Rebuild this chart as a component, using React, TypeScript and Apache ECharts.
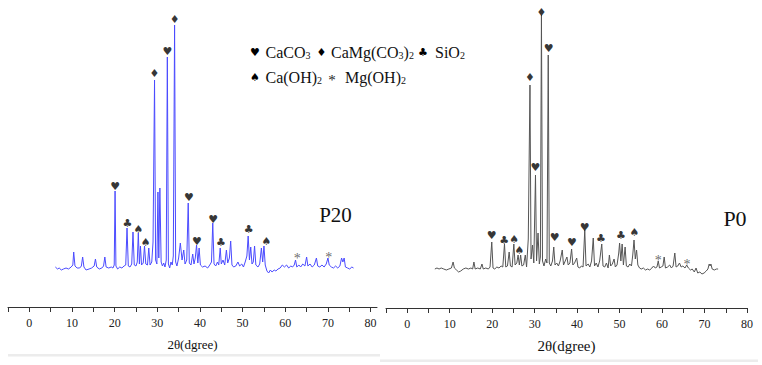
import React, { useEffect, useRef } from 'react';
import * as echarts from 'echarts';

// P20 diffraction pattern: [2θ, intensity above baseline]
const p20Pattern: number[][] = [
  [6.1, 1], [6.6, -1], [7.0, 0], [7.5, -2], [8.0, -1], [8.6, 0], [9.2, -1], [9.8, 1], [10.2, 3], [10.4, 16], [10.7, 2],
  [11.2, 0], [11.8, 0], [12.2, 2], [12.5, 11], [12.8, 1], [13.3, -2], [14.0, -1], [14.6, 0], [15.2, 2], [15.5, 9], [15.8, 1],
  [16.4, -1], [17.0, 0], [17.4, 2], [17.7, 11], [18.0, 1], [18.6, 0], [19.2, 1], [19.6, 0], [19.9, 3], [20.1, 77], [20.3, 2],
  [20.7, -1], [21.2, 1], [21.7, 0], [22.2, 2], [22.6, 3], [22.9, 40], [23.2, 2], [23.6, 1], [24.0, 4], [24.3, 36], [24.6, 3],
  [25.0, 2], [25.3, 6], [25.55, 35], [25.8, 4], [26.05, 22], [26.3, 3], [26.7, 5], [27.0, 22], [27.3, 4], [27.7, 3], [28.0, 20],
  [28.3, 3], [28.7, 6], [29.0, 26], [29.35, 188], [29.6, 8], [29.9, 4], [30.15, 76], [30.35, 10], [30.6, 80], [30.9, 6],
  [31.2, 2], [31.5, 5], [31.8, 1], [32.1, 8], [32.35, 211], [32.6, 4], [32.9, 0], [33.2, 6], [33.5, 3], [33.75, 12],
  [34.05, 243], [34.3, 6], [34.6, 2], [35.0, 10], [35.4, 25], [35.8, 8], [36.2, 18], [36.5, 4], [36.9, 8], [37.25, 65],
  [37.5, 5], [37.9, 3], [38.3, 14], [38.6, 4], [38.9, 10], [39.2, 23], [39.5, 5], [39.8, 20], [40.1, 3], [40.6, 1], [41.2, 2],
  [41.8, 0], [42.3, 3], [42.7, 6], [43.0, 45], [43.3, 4], [43.7, 2], [44.1, 6], [44.4, 3], [44.75, 20], [45.0, 4], [45.4, 8],
  [45.8, 3], [46.2, 18], [46.5, 5], [46.9, 10], [47.2, 27], [47.5, 3], [47.9, 1], [48.4, 2], [48.9, 6], [49.3, 2], [49.8, 4],
  [50.2, 1], [50.6, 6], [51.0, 12], [51.3, 32], [51.6, 8], [51.9, 21], [52.2, 4], [52.5, 6], [52.8, 22], [53.1, 3], [53.6, 1],
  [54.0, 4], [54.4, 20], [54.7, 6], [55.0, 22], [55.3, 3], [55.7, -3], [56.1, -5], [56.5, -2], [56.9, -4], [57.4, -2],
  [57.8, -3], [58.3, -1], [58.8, 0], [59.3, 3], [59.8, 1], [60.3, 3], [60.8, 0], [61.3, 2], [61.7, 1], [62.1, 3], [62.4, 8],
  [62.7, 1], [63.2, 3], [63.6, 1], [64.1, 4], [64.6, 2], [65.0, 11], [65.3, 2], [65.8, 4], [66.3, 1], [66.8, 3], [67.3, 10],
  [67.6, 2], [68.1, 1], [68.6, 3], [69.1, 1], [69.6, 4], [70.0, 10], [70.3, 3], [70.8, 1], [71.3, 0], [71.8, 2], [72.3, 0],
  [72.8, 2], [73.2, 10], [73.5, 6], [73.8, 10], [74.1, 1], [74.6, 0], [75.1, -1], [75.6, 1], [76.0, 0],
];

// P0 diffraction pattern
const p0Pattern: number[][] = [
  [6.5, 0], [7.0, 1], [7.5, 0], [8.0, 1], [8.6, 0], [9.2, -1], [9.8, 0], [10.4, 1], [10.8, 7], [11.1, 1], [11.6, -1],
  [12.1, -3], [12.6, -2], [13.2, 0], [13.8, 1], [14.4, 0], [15.0, 1], [15.4, 0], [15.7, 7], [16.0, 0], [16.6, 1], [17.2, 0],
  [17.6, 5], [17.9, 0], [18.5, 1], [19.1, 0], [19.5, 2], [19.9, 27], [20.2, 1], [20.6, 0], [21.1, 2], [21.6, 1], [22.1, 3],
  [22.5, 2], [22.9, 25], [23.2, 2], [23.6, 3], [24.0, 17], [24.3, 3], [24.7, 2], [25.1, 25], [25.4, 4], [25.8, 6], [26.1, 14],
  [26.4, 4], [26.7, 14], [27.0, 3], [27.4, 4], [27.8, 14], [28.1, 2], [28.5, 30], [28.9, 184], [29.15, 10], [29.5, 24],
  [29.8, 6], [30.2, 94], [30.45, 8], [30.8, 36], [31.1, 5], [31.35, 12], [31.6, 254], [31.85, 8], [32.2, 3], [32.6, 10],
  [32.9, 6], [33.2, 214], [33.45, 6], [33.8, 3], [34.2, 8], [34.5, 22], [34.8, 4], [35.2, 6], [35.6, 3], [36.0, 8], [36.5, 19],
  [36.8, 4], [37.2, 8], [37.6, 12], [37.9, 4], [38.3, 6], [38.7, 20], [39.0, 4], [39.4, 6], [39.9, 11], [40.2, 2], [40.6, 1],
  [41.0, 3], [41.4, 2], [41.8, 39], [42.1, 3], [42.6, 5], [43.0, 2], [43.4, 8], [43.8, 31], [44.1, 3], [44.5, 6], [44.9, 2],
  [45.3, 8], [45.8, 25], [46.1, 3], [46.5, 2], [46.9, 6], [47.3, 1], [47.6, 14], [47.9, 3], [48.3, 5], [48.7, 10], [49.0, 2],
  [49.4, 4], [49.8, 16], [50.0, 26], [50.3, 8], [50.6, 25], [50.9, 4], [51.3, 22], [51.6, 3], [52.0, 2], [52.4, 5], [52.8, 3],
  [53.1, 14], [53.4, 29], [53.7, 10], [54.0, 19], [54.3, 4], [54.7, 1], [55.1, 0], [55.6, 1], [56.1, -1], [56.6, 0],
  [57.1, -1], [57.6, 1], [58.0, 3], [58.4, 1], [58.8, 2], [59.1, 8], [59.4, 1], [59.8, 2], [60.2, 3], [60.5, 12], [60.8, 1],
  [61.3, 2], [61.8, 4], [62.2, 1], [62.6, 3], [63.0, 16], [63.3, 2], [63.7, 3], [64.1, 6], [64.5, 2], [64.9, 3], [65.4, 1],
  [65.8, 4], [66.2, 1], [66.7, -1], [67.1, 0], [67.6, -3], [68.0, 1], [68.4, -4], [68.9, -3], [69.4, -5], [69.9, -4],
  [70.4, -2], [70.8, 0], [71.1, 5], [71.3, 3], [71.5, 5], [71.8, 0], [72.3, -1], [72.8, 0], [73.2, 0],
];

// Phase markers: [2θ, marker height, symbol]
const p20Marks: [number, number, string][] = [
  [20.1, 82, '♥'], [23.0, 45, '♣'], [25.6, 39, '♠'], [27.3, 26, '♠'], [29.35, 195, '♦'], [32.35, 217, '♥'],
  [34.05, 249, '♦'], [37.4, 71, '♥'], [39.3, 27, '♥'], [43.1, 49, '♥'], [44.9, 26, '♣'], [51.4, 39, '♣'],
  [55.6, 27, '♠'], [62.8, 13, '*'], [70.2, 14, '*'],
];
const p0Marks: [number, number, string][] = [
  [19.9, 34, '♥'], [22.8, 29, '♣'], [25.2, 30, '♠'], [26.4, 19, '♠'], [28.9, 192, '♦'], [30.2, 102, '♥'],
  [31.6, 257, '♦'], [33.3, 221, '♥'], [34.7, 32, '♥'], [38.8, 27, '♥'], [41.8, 42, '♥'], [45.6, 31, '♣'],
  [50.3, 34, '♣'], [53.5, 37, '♠'], [59.1, 12, '*'], [65.9, 8, '*'],
];

const xTickValues = [-5, 0, 5, 10, 15, 20, 25, 30, 35, 40, 45, 50, 55, 60, 65, 70, 75, 80];
const xLabelValues = [0, 10, 20, 30, 40, 50, 60, 70, 80];

const serif = '"Liberation Serif", "Times New Roman", serif';
const symFont = '"DejaVu Sans", sans-serif';

function markData(marks: [number, number, string][]) {
  return marks.map(([x, y, s]) => ({
    name: s,
    value: [x, y],
    label:
      s === '*'
        ? { color: '#444', fontFamily: serif, fontSize: 14, offset: [0, 3], textBorderWidth: 0, textBorderColor: 'transparent' }
        : { color: '#000', fontFamily: symFont, fontSize: 11, textBorderWidth: 0, textBorderColor: 'transparent' },
  }));
}

function xAxisOf(gridIndex: number, max: number, nameSize: number, nameGap: number) {
  return {
    type: 'value',
    gridIndex,
    min: -5,
    max,
    name: '2θ(dgree)',
    nameLocation: 'middle',
    nameGap,
    nameTextStyle: { fontFamily: serif, fontSize: nameSize, color: '#111' },
    axisLine: { show: true, onZero: false, lineStyle: { color: '#333', width: 1 } },
    axisTick: { show: true, inside: false, length: 5, customValues: xTickValues, lineStyle: { color: '#333' } },
    axisLabel: { show: true, customValues: xLabelValues, margin: 10, fontFamily: serif, fontSize: 12, color: '#222' },
    splitLine: { show: false },
  };
}

function yAxisOf(gridIndex: number, max: number) {
  return { type: 'value', gridIndex, min: -39, max, show: false, splitLine: { show: false } };
}

export default function App() {
  const ref = useRef<HTMLDivElement>(null);
  useEffect(() => {
    const chart = echarts.init(ref.current!, null, { renderer: 'svg' });
    const subRich = { b: { fontSize: 10, fontFamily: serif, verticalAlign: 'bottom', lineHeight: 10, fill: '#111' } };
    const lblStyle = (text: string) => ({
      text,
      fontFamily: serif,
      fontSize: 16,
      fill: '#111',
      textAlign: 'left',
      textVerticalAlign: 'middle',
      rich: subRich,
    });
    const symStyle = (text: string, isStar = false) => ({
      text,
      fontFamily: isStar ? serif : symFont,
      fontSize: isStar ? 15 : 11,
      fill: isStar ? '#222' : '#000',
      textAlign: 'center',
      textVerticalAlign: 'middle',
    });
    chart.setOption({
      animation: false,
      backgroundColor: '#fff',
      textStyle: { fontFamily: serif },
      grid: [
        { left: 8, top: 10, width: 369, height: 297 },
        { left: 386, top: 10, width: 361, height: 298 },
      ],
      xAxis: [xAxisOf(0, 81.5, 13, 31), xAxisOf(1, 80, 15, 30)],
      yAxis: [yAxisOf(0, 258), yAxisOf(1, 259)],
      series: [
        {
          type: 'line',
          xAxisIndex: 0,
          yAxisIndex: 0,
          data: p20Pattern,
          showSymbol: false,
          symbol: 'none',
          lineStyle: { color: '#4b4bff', width: 1 },
        },
        {
          type: 'line',
          xAxisIndex: 1,
          yAxisIndex: 1,
          data: p0Pattern,
          showSymbol: false,
          symbol: 'none',
          lineStyle: { color: '#555', width: 1 },
        },
        {
          type: 'scatter',
          xAxisIndex: 0,
          yAxisIndex: 0,
          symbolSize: 1,
          itemStyle: { color: 'rgba(0,0,0,0)' },
          label: { show: true, position: 'inside', formatter: '{b}', textBorderWidth: 0 },
          data: markData(p20Marks),
          z: 5,
        },
        {
          type: 'scatter',
          xAxisIndex: 1,
          yAxisIndex: 1,
          symbolSize: 1,
          itemStyle: { color: 'rgba(0,0,0,0)' },
          label: { show: true, position: 'inside', formatter: '{b}', textBorderWidth: 0 },
          data: markData(p0Marks),
          z: 5,
        },
      ],
      graphic: [
        { type: 'text', x: 255, y: 52, style: symStyle('♥') },
        { type: 'text', x: 265.5, y: 52, style: lblStyle('CaCO{b|3}') },
        { type: 'text', x: 321.5, y: 52, style: symStyle('♦') },
        { type: 'text', x: 331, y: 52, style: lblStyle('CaMg(CO{b|3}){b|2}') },
        { type: 'text', x: 423, y: 52, style: symStyle('♣') },
        { type: 'text', x: 435, y: 52, style: lblStyle('SiO{b|2}') },
        { type: 'text', x: 255, y: 77, style: symStyle('♠') },
        { type: 'text', x: 265.5, y: 77, style: lblStyle('Ca(OH){b|2}') },
        { type: 'text', x: 332, y: 80, style: symStyle('*', true) },
        { type: 'text', x: 345, y: 77, style: lblStyle('Mg(OH){b|2}') },
        {
          type: 'text',
          x: 335.5,
          y: 215,
          style: { text: 'P20', fontFamily: serif, fontSize: 21, fill: '#111', textAlign: 'center', textVerticalAlign: 'middle' },
        },
        {
          type: 'text',
          x: 735,
          y: 218,
          style: { text: 'P0', fontFamily: serif, fontSize: 22, fill: '#111', textAlign: 'center', textVerticalAlign: 'middle' },
        },
        { type: 'rect', shape: { x: 8, y: 354, width: 372, height: 2.5 }, style: { fill: '#ececec' } },
        { type: 'rect', shape: { x: 380, y: 359.5, width: 378, height: 2.5 }, style: { fill: '#ececec' } },
      ],
    });
    return () => chart.dispose();
  }, []);
  return <div ref={ref} style={{ position: 'fixed', left: 0, top: 0, width: 762, height: 365 }} />;
}
